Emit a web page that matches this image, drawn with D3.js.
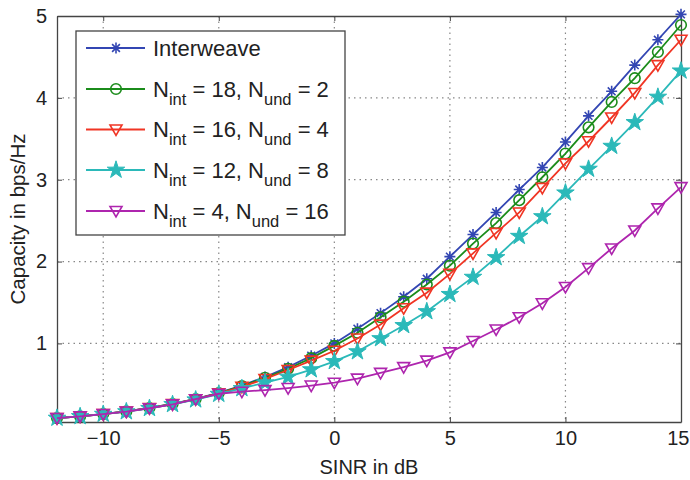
<!DOCTYPE html>
<html>
<head>
<meta charset="utf-8">
<script src="https://cdn.jsdelivr.net/npm/d3@7"></script>
<style>
  body { margin: 0; background: #fff; }
  text { font-family: "Liberation Sans", Arial, sans-serif; fill: #222; }
</style>
</head>
<body>
<div id="chart"></div>
<script>
// SINR values (dB)
var sinr = [-12, -11, -10, -9, -8, -7, -6, -5, -4, -3, -2, -1, 0, 1, 2, 3, 4, 5, 6, 7, 8, 9, 10, 11, 12, 13, 14, 15];

// capacity values (bps/Hz)
var interweave = [0.088, 0.109, 0.138, 0.170, 0.212, 0.262, 0.323, 0.396, 0.485, 0.59, 0.71, 0.85, 1.00, 1.18, 1.37, 1.57, 1.79, 2.06, 2.33, 2.60, 2.88, 3.15, 3.46, 3.78, 4.08, 4.40, 4.71, 5.02];
var n18u2 = [0.088, 0.109, 0.137, 0.169, 0.211, 0.260, 0.320, 0.393, 0.478, 0.58, 0.69, 0.82, 0.97, 1.13, 1.32, 1.51, 1.72, 1.95, 2.22, 2.47, 2.75, 3.03, 3.32, 3.64, 3.95, 4.24, 4.56, 4.89];
var n16u4 = [0.088, 0.109, 0.137, 0.169, 0.210, 0.259, 0.318, 0.390, 0.47, 0.565, 0.675, 0.79, 0.91, 1.06, 1.23, 1.43, 1.62, 1.85, 2.10, 2.35, 2.60, 2.90, 3.20, 3.47, 3.76, 4.06, 4.40, 4.71];
var n12u8 = [0.088, 0.108, 0.136, 0.167, 0.207, 0.255, 0.312, 0.38, 0.45, 0.52, 0.59, 0.68, 0.78, 0.90, 1.06, 1.22, 1.39, 1.60, 1.81, 2.05, 2.31, 2.55, 2.84, 3.13, 3.41, 3.70, 4.01, 4.33];
var n4u16 = [0.088, 0.109, 0.137, 0.168, 0.208, 0.255, 0.318, 0.385, 0.41, 0.43, 0.455, 0.485, 0.52, 0.57, 0.64, 0.71, 0.79, 0.89, 1.03, 1.17, 1.32, 1.49, 1.69, 1.92, 2.16, 2.38, 2.65, 2.91];

var xTicks = [-10, -5, 0, 5, 10, 15];
var yTicks = [1, 2, 3, 4, 5];

var series = [
    {name: "Interweave", values: interweave, color: "#3346b3", marker: "asterisk"},
    {nInt: "18", nUnd: "2", values: n18u2, color: "#1b8c1b", marker: "circle"},
    {nInt: "16", nUnd: "4", values: n16u4, color: "#f03524", marker: "triangle"},
    {nInt: "12", nUnd: "8", values: n12u8, color: "#2bb9b9", marker: "star"},
    {nInt: "4", nUnd: "16", values: n4u16, color: "#ae25ae", marker: "triangle"}
];

var width = 690, height = 480;
var plot = {left: 57, right: 681, top: 16, bottom: 422};

var svg = d3.select("#chart").append("svg")
    .attr("width", width)
    .attr("height", height);

var x = d3.scaleLinear().domain([-12, 15]).range([plot.left, plot.right]);
var y = d3.scaleLinear().domain([0.04, 5]).range([plot.bottom, plot.top]);

// dotted grid
svg.append("g").selectAll("line")
    .data(xTicks.filter(function(d){ return d < 15; }))
    .enter().append("line")
    .attr("x1", function(d){ return x(d); })
    .attr("x2", function(d){ return x(d); })
    .attr("y1", plot.top).attr("y2", plot.bottom)
    .attr("stroke", "#888").attr("stroke-width", 1.2)
    .attr("stroke-dasharray", "1.5,4");

svg.append("g").selectAll("line")
    .data(yTicks.filter(function(d){ return d < 5; }))
    .enter().append("line")
    .attr("y1", function(d){ return y(d); })
    .attr("y2", function(d){ return y(d); })
    .attr("x1", plot.left).attr("x2", plot.right)
    .attr("stroke", "#888").attr("stroke-width", 1.2)
    .attr("stroke-dasharray", "1.5,4");

//axes, ticks pointing inward like matlab
var xAxis = svg.append("g")
    .attr("transform", "translate(0," + plot.bottom + ")")
    .call(d3.axisBottom(x).tickValues(xTicks).tickFormat(d3.format("d")).tickSize(-5).tickPadding(9).tickSizeOuter(0));
var xTop = svg.append("g")
    .attr("transform", "translate(0," + plot.top + ")")
    .call(d3.axisTop(x).tickValues(xTicks).tickSize(-5).tickFormat("").tickSizeOuter(0));
var yAxis = svg.append("g")
    .attr("transform", "translate(" + plot.left + ",0)")
    .call(d3.axisLeft(y).tickValues(yTicks).tickFormat(d3.format("d")).tickSize(-5).tickPadding(10).tickSizeOuter(0));
var yRight = svg.append("g")
    .attr("transform", "translate(" + plot.right + ",0)")
    .call(d3.axisRight(y).tickValues(yTicks).tickSize(-5).tickFormat("").tickSizeOuter(0));

svg.selectAll(".domain").attr("stroke", "#444").attr("stroke-width", 1.3);
svg.selectAll(".tick line").attr("stroke", "#444");
svg.selectAll(".tick text").style("font-size", "20px").attr("fill", "#222");

// the last x label sits against the right edge of the picture
xAxis.selectAll(".tick text")
    .filter(function(d){ return d == 15; })
    .attr("text-anchor", "end")
    .attr("x", 689 - plot.right);

// axis titles
svg.append("text")
    .attr("x", (plot.left + plot.right) / 2)
    .attr("y", 474)
    .attr("text-anchor", "middle")
    .style("font-size", "20px")
    .text("SINR in dB");

svg.append("text")
    .attr("transform", "translate(25," + ((plot.top + plot.bottom) / 2) + ") rotate(-90)")
    .attr("text-anchor", "middle")
    .style("font-size", "20.5px")
    .text("Capacity in bps/Hz");

// marker drawing
function drawMarker(g, type, color, cx, cy) {
    if (type == "asterisk") {
        var r = 5.5, d = r * 0.707;
        var p = "M" + (cx - r) + "," + cy + "L" + (cx + r) + "," + cy +
                "M" + cx + "," + (cy - r) + "L" + cx + "," + (cy + r) +
                "M" + (cx - d) + "," + (cy - d) + "L" + (cx + d) + "," + (cy + d) +
                "M" + (cx - d) + "," + (cy + d) + "L" + (cx + d) + "," + (cy - d);
        g.append("path").attr("d", p).attr("stroke", color).attr("stroke-width", 1.6).attr("fill", "none");
    } else if (type == "circle") {
        g.append("circle").attr("cx", cx).attr("cy", cy).attr("r", 5.3)
            .attr("stroke", color).attr("stroke-width", 1.6).attr("fill", "none");
    } else if (type == "triangle") {
        var s = 6;
        var p = "M" + (cx - s) + "," + (cy - s * 0.75) + "L" + (cx + s) + "," + (cy - s * 0.75) +
                "L" + cx + "," + (cy + s) + "Z";
        g.append("path").attr("d", p).attr("stroke", color).attr("stroke-width", 1.6).attr("fill", "none");
    } else if (type == "star") {
        g.append("path")
            .attr("d", d3.symbol().type(d3.symbolStar).size(95)())
            .attr("transform", "translate(" + cx + "," + cy + ")")
            .attr("fill", color).attr("stroke", color).attr("stroke-width", 1);
    }
}

var line = d3.line()
    .x(function(d){ return x(d[0]); })
    .y(function(d){ return y(d[1]); });

series.forEach(function(s){
    var pts = sinr.map(function(v, i){ return [v, s.values[i]]; });
    var g = svg.append("g");
    g.append("path")
        .datum(pts)
        .attr("d", line)
        .attr("fill", "none")
        .attr("stroke", s.color)
        .attr("stroke-width", 1.8);
    pts.forEach(function(p){
        drawMarker(g, s.marker, s.color, x(p[0]), y(p[1]));
    });
});

// legend
var leg = svg.append("g");
leg.append("rect")
    .attr("x", 76).attr("y", 31)
    .attr("width", 269).attr("height", 204)
    .attr("fill", "#fff").attr("stroke", "#444").attr("stroke-width", 1.3);

var rowY = [48, 89, 129.5, 170, 211];
series.forEach(function(s, i){
    var ly = rowY[i];
    leg.append("line")
        .attr("x1", 86).attr("x2", 145)
        .attr("y1", ly).attr("y2", ly)
        .attr("stroke", s.color).attr("stroke-width", 1.8);
    drawMarker(leg, s.marker, s.color, 116, ly);
    var t = leg.append("text")
        .attr("x", 153).attr("y", ly + 7.5)
        .style("font-size", "22px");
    if (s.name) {
        t.text(s.name);
    } else {
        t.append("tspan").text("N");
        t.append("tspan").attr("dy", 8).style("font-size", "16.5px").text("int");
        t.append("tspan").attr("dy", -8).text(" = " + s.nInt + ", N");
        t.append("tspan").attr("dy", 8).style("font-size", "16.5px").text("und");
        t.append("tspan").attr("dy", -8).text(" = " + s.nUnd);
    }
});
</script>
</body>
</html>
